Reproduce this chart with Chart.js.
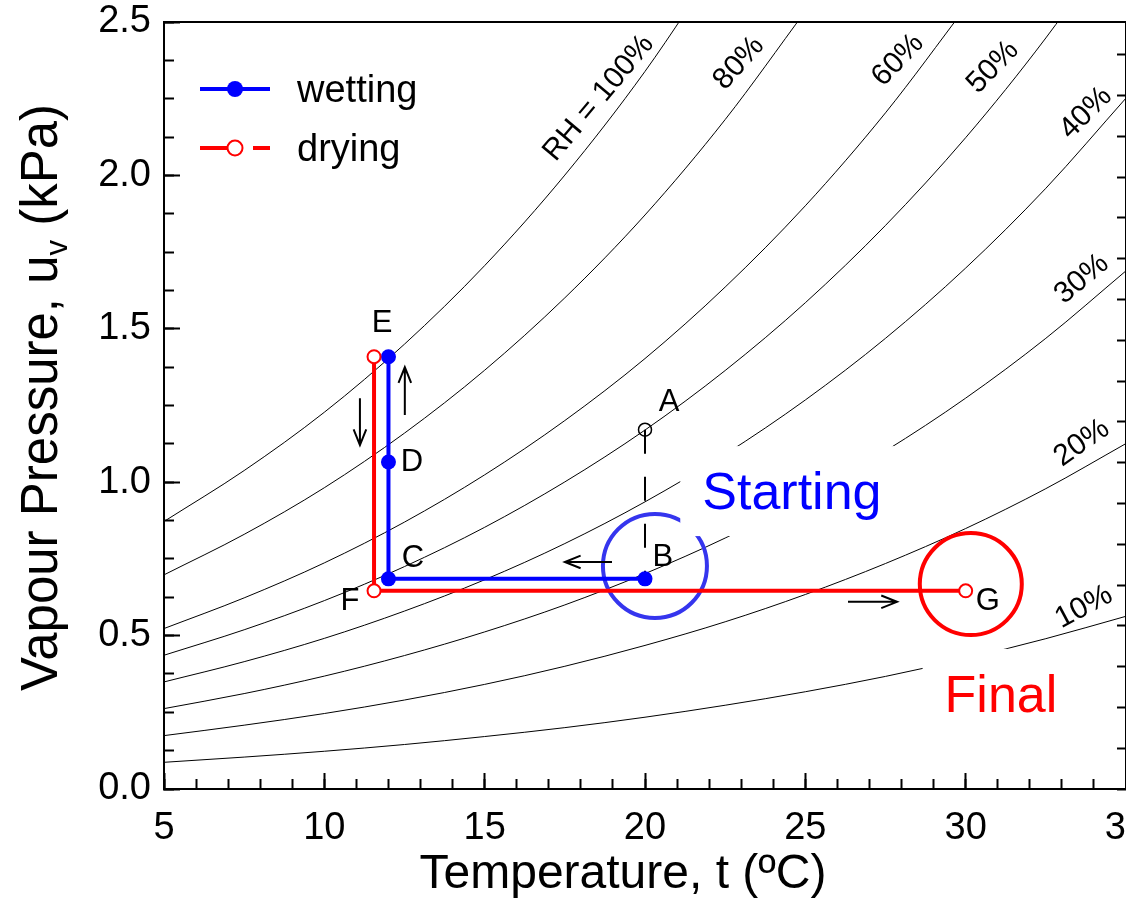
<!DOCTYPE html>
<html>
<head>
<meta charset="utf-8">
<title>Vapour pressure path</title>
<script src="https://cdn.jsdelivr.net/npm/chart.js@4.4.1/dist/chart.umd.min.js"></script>
<style>
  html, body { margin: 0; padding: 0; background: #fff; }
  canvas { display: block; }
</style>
</head>
<body>
<canvas id="rhChart" width="1126" height="903"></canvas>
<script>
// temperature grid for the RH curves (ºC)
const temps = [5, 7.5, 10, 12.5, 15, 17.5, 20, 22.5, 25, 27.5, 30, 32.5, 35];

// vapour pressure along each RH curve (kPa)
const rh100 = [0.872, 1.038, 1.228, 1.450, 1.706, 2.001, 2.339, 2.727];
const rh80 = [0.698, 0.830, 0.982, 1.160, 1.365, 1.601, 1.871, 2.182, 2.535];
const rh60 = [0.523, 0.623, 0.737, 0.870, 1.024, 1.201, 1.403, 1.636, 1.901, 2.204, 2.548];
const rh50 = [0.436, 0.519, 0.614, 0.725, 0.853, 1.001, 1.170, 1.364, 1.585, 1.837, 2.123, 2.448, 2.815];
const rh40 = [0.349, 0.415, 0.491, 0.580, 0.682, 0.800, 0.936, 1.091, 1.268, 1.469, 1.698, 1.958, 2.252];
const rh30 = [0.262, 0.311, 0.368, 0.435, 0.512, 0.600, 0.702, 0.818, 0.951, 1.102, 1.274, 1.469, 1.689];
const rh20 = [0.174, 0.208, 0.246, 0.290, 0.341, 0.400, 0.468, 0.545, 0.634, 0.735, 0.849, 0.979, 1.126];
const rh10 = [0.087, 0.104, 0.123, 0.145, 0.171, 0.200, 0.234, 0.273, 0.317, 0.367, 0.425, 0.490, 0.563];
const rhCurves = [rh100, rh80, rh60, rh50, rh40, rh30, rh20, rh10];
const rhNames = ['RH = 100%', '80%', '60%', '50%', '40%', '30%', '20%', '10%'];

// wetting: B -> C -> D -> E
const wettingT = [20, 12, 12, 12];
const wettingU = [0.685, 0.685, 1.066, 1.409];
// drying: E -> F -> G
const dryingT = [11.55, 11.55, 30];
const dryingU = [1.409, 0.646, 0.646];
// initial state A brought down to B
const startT = [20, 20];
const startU = [1.171, 0.685];

const xTicks = [5, 10, 15, 20, 25, 30, 35];
const yTicks = [0, 0.5, 1.0, 1.5, 2.0, 2.5];

// annotation placement, in axis units
const pointTags = [
    { text: 'A', t: 20.75, u: 1.261 },
    { text: 'B', t: 20.56, u: 0.756 },
    { text: 'C', t: 12.76, u: 0.750 },
    { text: 'D', t: 12.73, u: 1.063 },
    { text: 'E', t: 11.80, u: 1.519 },
    { text: 'F', t: 10.80, u: 0.610 },
    { text: 'G', t: 30.69, u: 0.610 }
];
const rhTagPos = [
    { t: 18.56, u: 2.252, angle: -50 },
    { t: 22.93, u: 2.366, angle: -48 },
    { t: 27.89, u: 2.376, angle: -46 },
    { t: 30.85, u: 2.353, angle: -46 },
    { t: 33.75, u: 2.203, angle: -45 },
    { t: 33.62, u: 1.662, angle: -40 },
    { t: 33.62, u: 1.128, angle: -35 },
    { t: 33.69, u: 0.593, angle: -28 }
];
const rings = [
    { t: 20.31, u: 0.727, r: 52, color: '#3535ee' },
    { t: 30.16, u: 0.668, r: 51, color: '#ff0000' }
];
const boxedWords = [
    { text: 'Starting', t: 24.58, u: 0.971, color: '#0000ff' },
    { text: 'Final', t: 31.10, u: 0.310, color: '#ff0000' }
];
const arrows = [
    { t0: 11.11, u0: 1.274, t1: 11.11, u1: 1.121 },
    { t0: 12.51, u0: 1.219, t1: 12.51, u1: 1.375 },
    { t0: 18.97, u0: 0.740, t1: 17.50, u1: 0.740 },
    { t0: 26.33, u0: 0.610, t1: 27.86, u1: 0.610 }
];

const FONT = "'Liberation Sans', Arial, Helvetica, sans-serif";
Chart.defaults.font.family = FONT;
Chart.defaults.color = '#000';

const pts = (xs, ys) => ys.map((y, i) => ({ x: xs[i], y }));

const curveSets = rhCurves.map((u, k) => ({
    label: rhNames[k],
    data: pts(temps, u),
    borderColor: '#000',
    borderWidth: 1,
    pointRadius: 0,
    cubicInterpolationMode: 'monotone',
    order: 3
}));

const abSet = {
    label: 'A-B',
    data: pts(startT, startU),
    borderColor: '#000',
    borderWidth: 2,
    borderDash: [24, 23],
    pointRadius: [6.5, 0],
    pointBorderWidth: 1.5,
    pointBorderColor: '#000',
    pointBackgroundColor: 'rgba(0,0,0,0)',
    order: 2
};
const wetSet = {
    label: 'wetting',
    data: pts(wettingT, wettingU),
    borderColor: '#0000ff',
    backgroundColor: '#0000ff',
    borderWidth: 4,
    pointRadius: 7.5,
    pointBorderWidth: 0,
    pointBackgroundColor: '#0000ff',
    order: 1
};
const drySet = {
    label: 'drying',
    data: pts(dryingT, dryingU),
    borderColor: '#ff0000',
    backgroundColor: '#ff0000',
    borderWidth: 4,
    pointRadius: 6.5,
    pointBorderWidth: 2,
    pointBorderColor: '#ff0000',
    pointBackgroundColor: '#fff',
    order: 0
};

// fix an axis to a given thickness and drop the label overhang padding
function flat(size) {
    return s => {
        s.paddingLeft = s.paddingRight = s.paddingTop = s.paddingBottom = 0;
        if (s.isHorizontal()) s.height = size; else s.width = size;
    };
}

const tickGrid = len => ({ drawOnChartArea: false, tickLength: len, tickWidth: 2, tickColor: '#000' });

function drawArrow(ctx, x1, y1, x2, y2) {
    const a = Math.atan2(y2 - y1, x2 - x1), len = 17, spread = 0.38;
    ctx.beginPath();
    ctx.moveTo(x1, y1);
    ctx.lineTo(x2, y2);
    ctx.moveTo(x2 - len * Math.cos(a - spread), y2 - len * Math.sin(a - spread));
    ctx.lineTo(x2, y2);
    ctx.lineTo(x2 - len * Math.cos(a + spread), y2 - len * Math.sin(a + spread));
    ctx.stroke();
}

function drawLegend(ctx, area, chart) {
    const wet = chart.data.datasets.find(d => d.label === 'wetting');
    const dry = chart.data.datasets.find(d => d.label === 'drying');
    const x0 = area.left + 36, x1 = area.left + 106, xm = area.left + 71, xt = area.left + 133;
    let y = area.top + 67;

    ctx.save();
    ctx.lineWidth = 4;
    ctx.strokeStyle = wet.borderColor;
    ctx.beginPath(); ctx.moveTo(x0, y); ctx.lineTo(x1, y); ctx.stroke();
    ctx.fillStyle = wet.pointBackgroundColor;
    ctx.beginPath(); ctx.arc(xm, y, 8, 0, Math.PI * 2); ctx.fill();
    ctx.fillStyle = '#000';
    ctx.font = '38px ' + FONT;
    ctx.textBaseline = 'alphabetic';
    ctx.fillText(wet.label, xt, y + 13);

    y += 59;
    ctx.strokeStyle = dry.borderColor;
    ctx.setLineDash([28, 25]);
    ctx.beginPath(); ctx.moveTo(x0, y); ctx.lineTo(x1, y); ctx.stroke();
    ctx.setLineDash([]);
    ctx.lineWidth = 2;
    ctx.fillStyle = '#fff';
    ctx.beginPath(); ctx.arc(xm, y, 7.5, 0, Math.PI * 2); ctx.fill(); ctx.stroke();
    ctx.fillStyle = '#000';
    ctx.fillText(dry.label, xt, y + 13);
    ctx.restore();
}

function drawTitles(ctx, area, chart) {
    ctx.save();
    ctx.fillStyle = '#000';
    ctx.textBaseline = 'alphabetic';

    ctx.font = '48px ' + FONT;
    ctx.textAlign = 'center';
    ctx.fillText('Temperature, t (ºC)', (area.left + area.right) / 2 - 22, chart.height - 15);

    // vertical title with a subscript v
    const big = '51px ' + FONT, small = '31px ' + FONT;
    const p1 = 'Vapour Pressure, u', p2 = 'v', p3 = ' (kPa)';
    ctx.textAlign = 'left';
    ctx.font = big;
    const w1 = ctx.measureText(p1).width, w3 = ctx.measureText(p3).width;
    ctx.font = small;
    const w2 = ctx.measureText(p2).width;
    ctx.translate(57, (area.top + area.bottom) / 2 - 8);
    ctx.rotate(-Math.PI / 2);
    let x = -(w1 + w2 + w3) / 2;
    ctx.font = big;
    ctx.fillText(p1, x, 0);
    ctx.font = small;
    ctx.fillText(p2, x + w1, 10);
    ctx.font = big;
    ctx.fillText(p3, x + w1 + w2, 0);
    ctx.restore();
}

const overlay = {
    id: 'overlay',
    // rings and the boxed words sit above the RH curves, under the paths
    beforeDatasetDraw(chart, args) {
        if (chart.data.datasets[args.index].label !== 'A-B') return;
        const { ctx } = chart;
        const px = v => chart.scales.x.getPixelForValue(v);
        const py = v => chart.scales.y.getPixelForValue(v);
        ctx.save();
        ctx.lineWidth = 4;
        rings.forEach(r => {
            ctx.strokeStyle = r.color;
            ctx.beginPath();
            ctx.arc(px(r.t), py(r.u), r.r, 0, Math.PI * 2);
            ctx.stroke();
        });
        ctx.font = '52px ' + FONT;
        ctx.textAlign = 'center';
        ctx.textBaseline = 'alphabetic';
        boxedWords.forEach(b => {
            const cx = px(b.t), cy = py(b.u);
            const w = ctx.measureText(b.text).width + 44;
            ctx.fillStyle = '#fff';
            ctx.fillRect(cx - w / 2, cy - 45, w, 90);
            ctx.fillStyle = b.color;
            ctx.fillText(b.text, cx, cy + 18);
        });
        ctx.restore();
    },
    afterDatasetsDraw(chart) {
        const { ctx, chartArea } = chart;
        const px = v => chart.scales.x.getPixelForValue(v);
        const py = v => chart.scales.y.getPixelForValue(v);
        ctx.save();
        ctx.strokeStyle = '#000';
        ctx.lineWidth = 2;
        arrows.forEach(a => drawArrow(ctx, px(a.t0), py(a.u0), px(a.t1), py(a.u1)));

        ctx.fillStyle = '#000';
        ctx.textAlign = 'center';
        ctx.textBaseline = 'middle';
        ctx.font = '31px ' + FONT;
        pointTags.forEach(p => ctx.fillText(p.text, px(p.t), py(p.u)));

        ctx.font = '30px ' + FONT;
        rhTagPos.forEach((p, k) => {
            ctx.save();
            ctx.translate(px(p.t), py(p.u));
            ctx.rotate(p.angle * Math.PI / 180);
            ctx.fillText(rhNames[k], 0, 0);
            ctx.restore();
        });
        ctx.restore();

        drawLegend(ctx, chartArea, chart);
        drawTitles(ctx, chartArea, chart);
    }
};

const canvas = document.getElementById('rhChart');
new Chart(canvas.getContext('2d'), {
    type: 'line',
    data: { datasets: [...curveSets, abSet, wetSet, drySet] },
    options: {
        responsive: false,
        animation: false,
        devicePixelRatio: 1,
        events: [],
        layout: { autoPadding: false, padding: { top: 22, right: 0, bottom: 0, left: 0 } },
        plugins: { legend: { display: false }, tooltip: { enabled: false } },
        scales: {
            x: {
                type: 'linear', position: 'bottom', weight: 1, min: 5, max: 35,
                afterBuildTicks: s => { s.ticks = xTicks.map(value => ({ value })); },
                ticks: { font: { size: 38 }, padding: 33, maxRotation: 0, autoSkip: false, callback: v => String(v) },
                grid: tickGrid(-16),
                border: { color: '#000', width: 2 },
                afterFit: flat(114)
            },
            xMinor: {
                type: 'linear', position: 'bottom', weight: 0, min: 5, max: 35,
                ticks: { stepSize: 1, display: false, autoSkip: false },
                grid: tickGrid(-10),
                border: { display: false },
                afterFit: flat(0)
            },
            xTop: {
                type: 'linear', position: 'top', min: 5, max: 35,
                ticks: { display: false },
                grid: { drawOnChartArea: false, drawTicks: false },
                border: { color: '#000', width: 2 },
                afterFit: flat(0)
            },
            y: {
                type: 'linear', position: 'left', weight: 1, min: 0, max: 2.5,
                afterBuildTicks: s => { s.ticks = yTicks.map(value => ({ value })); },
                ticks: { font: { size: 38 }, padding: 29, callback: v => v.toFixed(1) },
                grid: tickGrid(-16),
                border: { color: '#000', width: 2 },
                afterFit: flat(164)
            },
            yMinor: {
                type: 'linear', position: 'left', weight: 0, min: 0, max: 2.5,
                ticks: { stepSize: 0.125, display: false },
                grid: tickGrid(-10),
                border: { display: false },
                afterFit: flat(0)
            },
            yRight: {
                type: 'linear', position: 'right', min: 0, max: 18.8,
                ticks: { stepSize: 1, display: false, includeBounds: false },
                grid: tickGrid(-9),
                border: { color: '#000', width: 2 },
                afterFit: flat(0)
            }
        }
    },
    plugins: [overlay]
});
</script>
</body>
</html>
